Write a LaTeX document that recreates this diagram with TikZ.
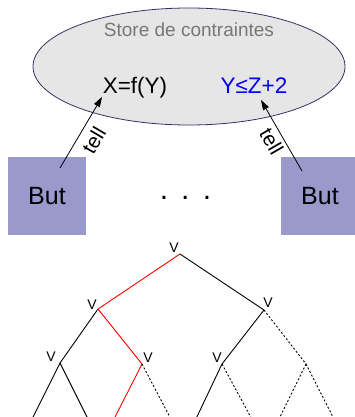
\documentclass[tikz,border=0pt]{standalone}
\usepackage{fontspec}
\setmainfont{Liberation Sans}
\usetikzlibrary{arrows.meta,shapes.geometric}
\definecolor{butfill}{HTML}{9999CC}
\definecolor{storefill}{HTML}{E6E6E6}
\definecolor{storeline}{HTML}{333366}
\definecolor{storetext}{HTML}{777777}
\begin{document}
\begin{tikzpicture}[x=1pt,y=-1pt,
  storeshape/.style={ellipse, draw=storeline, fill=storefill, line width=0.8pt,
    minimum width=312pt, minimum height=117pt, inner sep=0pt},
  titletxt/.style={font=\fontsize{19}{22}\selectfont, text=storetext, anchor=base, inner sep=0pt},
  bigtxt/.style={font=\fontsize{22.5}{26}\selectfont, anchor=base, inner sep=0pt},
  butbox/.style={fill=butfill, minimum width=78pt, minimum height=78pt, inner sep=0pt,
    font=\fontsize{25}{30}\selectfont},
  tellarrow/.style={-{Triangle[length=10pt,width=6.5pt]}, line width=0.8pt},
  telllab/.style={font=\fontsize{20.5}{24}\selectfont, sloped, pos=0.5},
  vlab/.style={font=\fontsize{14}{16}\selectfont, inner sep=0pt},
  edge/.style={line width=0.9pt},
  rededge/.style={line width=0.9pt, red},
  dashedge/.style={line width=0.9pt, dash pattern=on 2pt off 2pt}]
\clip (0,0) rectangle (355,417);
% store
\node[storeshape] (store) at (189,66.5) {};
\node[titletxt] (title) at (189,37) {Store de contraintes};
\node[bigtxt] (c1) at (135,93.5) {X=f(Y)};
\node[bigtxt, text=blue] (c2) at (254,94) {Y≤Z+2};
% agents
\node[butbox] (b1) at (47,196) {But};
\node[butbox] (b2) at (320,196) {But};
\node[font=\fontsize{30}{34}\selectfont, anchor=base, inner sep=0pt] (dots) at (185.5,199) {.\hspace{13pt}.\hspace{13.5pt}.};
% tell arrows
\coordinate (s1) at (60,168);
\coordinate (t1) at (102,97);
\coordinate (s2) at (302,171);
\coordinate (t2) at (261,100);
\draw[tellarrow] (s1) -- node[telllab, below, inner sep=7pt] (l1) {tell} (t1);
\draw[tellarrow] (s2) -- node[telllab, below, inner sep=3.5pt] (l2) {tell} (t2);
% tree vertices
\coordinate (r) at (180,254);
\coordinate (a) at (98,309);
\coordinate (b) at (264,310);
\coordinate (aa) at (60,363);
\coordinate (ab) at (142,364);
\coordinate (ba) at (222,364);
\coordinate (bb) at (306,364);
\coordinate (aa1) at (30,423);
\coordinate (aa2) at (90,423);
\coordinate (ab1) at (112,423);
\coordinate (ab2) at (173,423);
\coordinate (ba1) at (194,423);
\coordinate (ba2) at (254,423);
\coordinate (bb1) at (277,423);
\coordinate (bb2) at (336,423);
% V labels
\node[vlab] (vr) at (174,248) {V};
\node[vlab] (va) at (92,305) {V};
\node[vlab] (vb) at (268,303) {V};
\node[vlab] (vaa) at (51,357) {V};
\node[vlab] (vab) at (148,358) {V};
\node[vlab] (vba) at (217,358) {V};
% edges
\draw[rededge] (r) -- (a);
\draw[edge] (r) -- (b);
\draw[edge] (a) -- (aa);
\draw[rededge] (a) -- (ab);
\draw[edge] (b) -- (ba);
\draw[dashedge] (b) -- (bb);
\draw[edge] (aa) -- (aa1);
\draw[edge] (aa) -- (aa2);
\draw[rededge] (ab) -- (ab1);
\draw[dashedge] (ab) -- (ab2);
\draw[edge] (ba) -- (ba1);
\draw[dashedge] (ba) -- (ba2);
\draw[dashedge] (bb) -- (bb1);
\draw[dashedge] (bb) -- (bb2);
\end{tikzpicture}
\end{document}
